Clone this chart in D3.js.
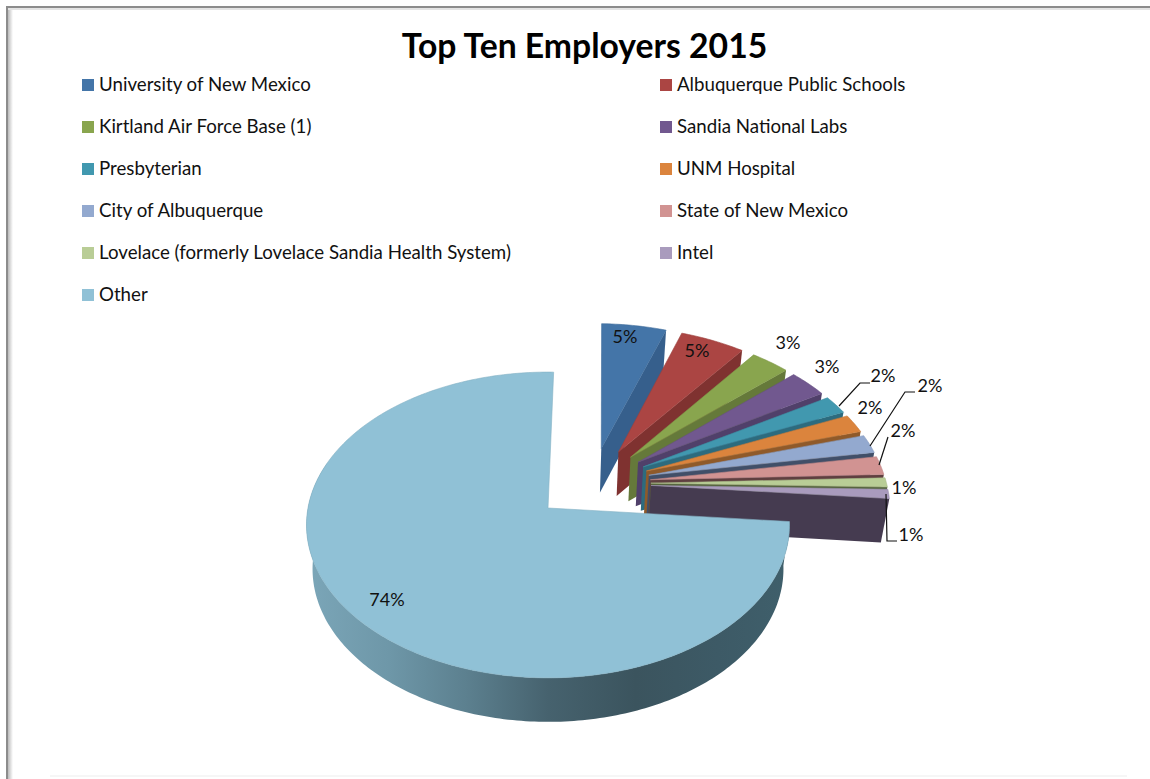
<!DOCTYPE html>
<html>
<head>
<meta charset="utf-8">
<title>Top Ten Employers 2015</title>
<script src="https://cdn.jsdelivr.net/npm/d3@7/dist/d3.min.js"></script>
<style>
  html, body { margin: 0; padding: 0; background: #fff; }
  svg { display: block; }
  text { font-family: Lato, "Open Sans", sans-serif; fill: #111; }
</style>
</head>
<body>
<svg id="chart" width="1150" height="779"></svg>
<script>
// Employment share by employer, percent
const employers = [
  "University of New Mexico", "Albuquerque Public Schools",
  "Kirtland Air Force Base (1)", "Sandia National Labs",
  "Presbyterian", "UNM Hospital",
  "City of Albuquerque", "State of New Mexico",
  "Lovelace (formerly Lovelace Sandia Health System)", "Intel",
  "Other"
];
const shares = [5, 5, 3, 3, 2, 2, 2, 2, 1, 1, 74];
const topColors = ["#4475a8", "#ab4543", "#89a54e", "#71588f", "#4198af", "#db843d",
                   "#93a9cf", "#d19392", "#b9cd96", "#a99bbd", "#90c1d6"];
const wallColors = ["#365f8c", "#7f3230", "#65793a", "#50406a", "#2d6b7e", "#8f5a2a",
                    "#414f68", "#5f3f40", "#56653f", "#453b50", "#4a6a78"];
const chartTitle = "Top Ten Employers 2015";

const svg = d3.select("#chart");

// Frame of the page: hairline on the top and left with a soft inner shade
const defs = svg.append("defs");
const shadeL = defs.append("linearGradient").attr("id", "shadeL");
shadeL.append("stop").attr("offset", 0).attr("stop-color", "#bbb");
shadeL.append("stop").attr("offset", 1).attr("stop-color", "#fff");
svg.append("rect").attr("x", 8).attr("y", 7).attr("width", 5).attr("height", 772).attr("fill", "url(#shadeL)");
svg.append("rect").attr("x", 6).attr("y", 6).attr("width", 1144).attr("height", 2).attr("fill", "#8c8c8c");
svg.append("rect").attr("x", 6).attr("y", 6).attr("width", 2).attr("height", 773).attr("fill", "#8c8c8c");
svg.append("rect").attr("x", 8).attr("y", 8).attr("width", 1142).attr("height", 2).attr("fill", "#e4e4e4");
svg.append("rect").attr("x", 50).attr("y", 775).attr("width", 1077).attr("height", 2).attr("fill", "#f6f6f6");

svg.append("text")
  .attr("x", 584.5).attr("y", 58)
  .attr("text-anchor", "middle")
  .style("font-size", "33.7px").style("font-weight", 700)
  .style("fill", "#000")
  .text(chartTitle);

// Legend: two columns filled row by row
const legend = svg.append("g").selectAll("g").data(employers).join("g")
  .attr("transform", (d, i) => `translate(${i % 2 ? 660 : 82},${79 + 42 * Math.floor(i / 2)})`);
legend.append("rect").attr("width", 12).attr("height", 12).attr("fill", (d, i) => topColors[i]);
legend.append("text").attr("x", 17).attr("y", 12).style("font-size", "18.7px").text(d => d);

// Perspective view of the pie plane. Plane units are pie radii, with the
// point of the non-exploded reference wedge at the origin of the scales.
const originX = 548, originY = 508, radiusX = 240, radiusY = 151;
const xScale = d3.scaleLinear().domain([-1, 1]).range([originX - radiusX, originX + radiusX]);
const yScale = d3.scaleLinear().domain([-1, 1]).range([originY + radiusY, originY - radiusY]);
const depth = 0.111;       // foreshortening along the plane
const wallHeight = 44;     // pixel height of the pie's side
const wallShrink = 0.975;  // the lower rim recedes slightly
const explode = 0.25;
const rotation = 1.5 * Math.PI / 180;

const pie = d3.pie().sort(null).startAngle(rotation).endAngle(rotation + 2 * Math.PI);
const wedges = pie(shares);
const otherWedge = wedges[wedges.length - 1];
const otherMid = (otherWedge.startAngle + otherWedge.endAngle) / 2;
const shift = [-explode * Math.sin(otherMid), -explode * Math.cos(otherMid)];

function project(wx, wy) {
  const w = 1 + depth * wy;
  return [xScale(wx / w), yScale(wy / w)];
}
function lower(p) {
  return [originX + (p[0] - originX) * wallShrink, p[1] + wallHeight];
}
// Position on a wedge at polar (angle, r) once its explosion is applied
function wedgePoint(wedge, angle, r) {
  const mid = (wedge.startAngle + wedge.endAngle) / 2;
  const wx = shift[0] + explode * Math.sin(mid) + r * Math.sin(angle);
  const wy = shift[1] + explode * Math.cos(mid) + r * Math.cos(angle);
  return project(wx, wy);
}
function rim(wedge, stopAngle) {
  const last = stopAngle === undefined ? wedge.endAngle : Math.min(stopAngle, wedge.endAngle);
  const n = Math.max(8, Math.round((last - wedge.startAngle) * 60));
  return d3.range(n + 1).map(i =>
    wedgePoint(wedge, wedge.startAngle + (last - wedge.startAngle) * i / n, 1));
}
const outline = d3.line().curve(d3.curveLinear);

// Side shading of the large wedge runs from pale on the left to dark on the right
const sideGrad = defs.append("linearGradient").attr("id", "sideGrad")
  .attr("gradientUnits", "userSpaceOnUse").attr("x1", 307).attr("x2", 790).attr("y1", 0).attr("y2", 0);
[[0, "#7ba6b8"], [0.17, "#6e97a8"], [0.33, "#5c808f"], [0.5, "#46626e"], [0.68, "#3b545e"], [0.85, "#3d5a66"], [1, "#3f5f6b"]]
  .forEach(([o, c]) => sideGrad.append("stop").attr("offset", o).attr("stop-color", c));

const pieLayer = svg.append("g");
wedges.forEach((wedge, i) => {
  const top = rim(wedge);
  const apex = wedgePoint(wedge, 0, 0);
  const isOther = i === wedges.length - 1;
  if (isOther) {
    // Only the near half of the rim shows a side
    const nearRim = rim(wedge, 1.6 * Math.PI);
    pieLayer.append("path")
      .attr("d", outline(nearRim.concat(nearRim.map(lower).reverse())) + "Z")
      .attr("fill", "url(#sideGrad)");
  } else {
    const end = top[top.length - 1];
    pieLayer.append("path")
      .attr("d", outline([apex, end, lower(end), lower(apex)]) + "Z")
      .attr("fill", wallColors[i]);
  }
  pieLayer.append("path")
    .attr("d", outline([apex].concat(top)) + "Z")
    .attr("fill", topColors[i])
    .attr("stroke", d3.color(topColors[i]).darker(0.25))
    .attr("stroke-width", 0.6);
});

// Percent labels, with elbow leaders where a label sits away from its wedge
const labelSpots = [[625, 337], [697, 351], [788, 343], [827, 367], [883, 376], [870, 408],
                    [930, 386], [903, 431], [904, 488], [911, 535], [387, 600]];
const leaders = [
  [[839, 406], [860, 383], [870, 383]],
  [[870, 446], [905, 392], [915, 392]],
  [[879, 465], [888, 437]],
  [[886, 494], [887, 541], [897, 541]]
];
svg.append("g").selectAll("path").data(leaders).join("path")
  .attr("d", d => outline(d)).attr("fill", "none").attr("stroke", "#111").attr("stroke-width", 1.2);
svg.append("g").selectAll("text").data(shares).join("text")
  .attr("x", (d, i) => labelSpots[i][0]).attr("y", (d, i) => labelSpots[i][1] + 6)
  .attr("text-anchor", "middle").style("font-size", "18px")
  .text(d => d + "%");
</script>
</body>
</html>
